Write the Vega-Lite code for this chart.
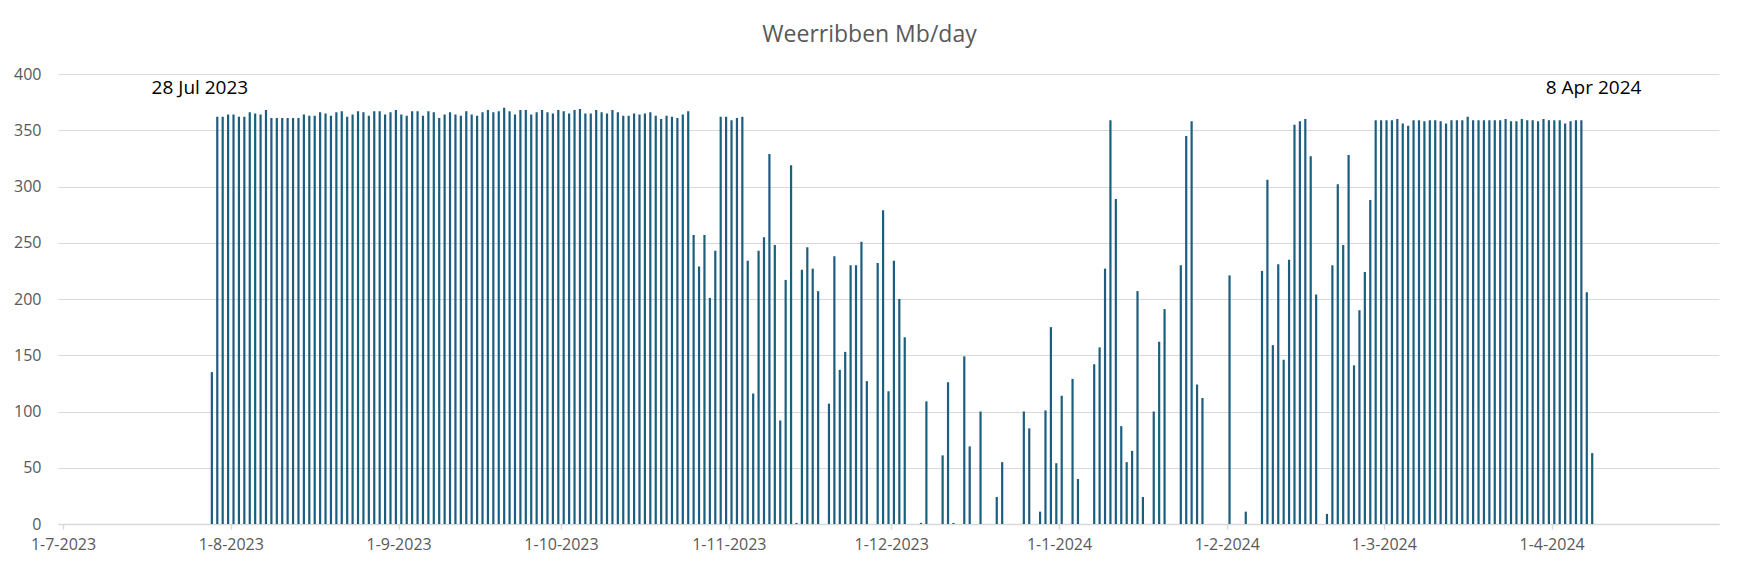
{
  "$schema": "https://vega.github.io/schema/vega-lite/v6.json",
  "width": 1661,
  "height": 450,
  "autosize": {"type": "none"},
  "padding": {"left": 58, "top": 74, "right": 20, "bottom": 46},
  "background": "white",
  "title": {
    "text": "Weerribben Mb/day",
    "font": "Open Sans",
    "fontSize": 23,
    "fontWeight": "normal",
    "color": "#595959",
    "anchor": "middle",
    "frame": "group",
    "offset": 19,
    "dx": -19
  },
  "datasets": {
    "daily": [
      {"d": "2023-07-28T12:00Z", "v": 135},
      {"d": "2023-07-29T12:00Z", "v": 362},
      {"d": "2023-07-30T12:00Z", "v": 362},
      {"d": "2023-07-31T12:00Z", "v": 364},
      {"d": "2023-08-01T12:00Z", "v": 364},
      {"d": "2023-08-02T12:00Z", "v": 362},
      {"d": "2023-08-03T12:00Z", "v": 362},
      {"d": "2023-08-04T12:00Z", "v": 366},
      {"d": "2023-08-05T12:00Z", "v": 365},
      {"d": "2023-08-06T12:00Z", "v": 364},
      {"d": "2023-08-07T12:00Z", "v": 368},
      {"d": "2023-08-08T12:00Z", "v": 361},
      {"d": "2023-08-09T12:00Z", "v": 361},
      {"d": "2023-08-10T12:00Z", "v": 361},
      {"d": "2023-08-11T12:00Z", "v": 361},
      {"d": "2023-08-12T12:00Z", "v": 361},
      {"d": "2023-08-13T12:00Z", "v": 361},
      {"d": "2023-08-14T12:00Z", "v": 364},
      {"d": "2023-08-15T12:00Z", "v": 363},
      {"d": "2023-08-16T12:00Z", "v": 363},
      {"d": "2023-08-17T12:00Z", "v": 366},
      {"d": "2023-08-18T12:00Z", "v": 365},
      {"d": "2023-08-19T12:00Z", "v": 363},
      {"d": "2023-08-20T12:00Z", "v": 366},
      {"d": "2023-08-21T12:00Z", "v": 367},
      {"d": "2023-08-22T12:00Z", "v": 362},
      {"d": "2023-08-23T12:00Z", "v": 364},
      {"d": "2023-08-24T12:00Z", "v": 367},
      {"d": "2023-08-25T12:00Z", "v": 366},
      {"d": "2023-08-26T12:00Z", "v": 363},
      {"d": "2023-08-27T12:00Z", "v": 367},
      {"d": "2023-08-28T12:00Z", "v": 367},
      {"d": "2023-08-29T12:00Z", "v": 364},
      {"d": "2023-08-30T12:00Z", "v": 366},
      {"d": "2023-08-31T12:00Z", "v": 368},
      {"d": "2023-09-01T12:00Z", "v": 364},
      {"d": "2023-09-02T12:00Z", "v": 363},
      {"d": "2023-09-03T12:00Z", "v": 367},
      {"d": "2023-09-04T12:00Z", "v": 367},
      {"d": "2023-09-05T12:00Z", "v": 363},
      {"d": "2023-09-06T12:00Z", "v": 367},
      {"d": "2023-09-07T12:00Z", "v": 366},
      {"d": "2023-09-08T12:00Z", "v": 361},
      {"d": "2023-09-09T12:00Z", "v": 364},
      {"d": "2023-09-10T12:00Z", "v": 366},
      {"d": "2023-09-11T12:00Z", "v": 364},
      {"d": "2023-09-12T12:00Z", "v": 363},
      {"d": "2023-09-13T12:00Z", "v": 367},
      {"d": "2023-09-14T12:00Z", "v": 364},
      {"d": "2023-09-15T12:00Z", "v": 363},
      {"d": "2023-09-16T12:00Z", "v": 366},
      {"d": "2023-09-17T12:00Z", "v": 368},
      {"d": "2023-09-18T12:00Z", "v": 366},
      {"d": "2023-09-19T12:00Z", "v": 367},
      {"d": "2023-09-20T12:00Z", "v": 370},
      {"d": "2023-09-21T12:00Z", "v": 367},
      {"d": "2023-09-22T12:00Z", "v": 364},
      {"d": "2023-09-23T12:00Z", "v": 368},
      {"d": "2023-09-24T12:00Z", "v": 368},
      {"d": "2023-09-25T12:00Z", "v": 364},
      {"d": "2023-09-26T12:00Z", "v": 366},
      {"d": "2023-09-27T12:00Z", "v": 368},
      {"d": "2023-09-28T12:00Z", "v": 366},
      {"d": "2023-09-29T12:00Z", "v": 365},
      {"d": "2023-09-30T12:00Z", "v": 368},
      {"d": "2023-10-01T12:00Z", "v": 367},
      {"d": "2023-10-02T12:00Z", "v": 365},
      {"d": "2023-10-03T12:00Z", "v": 368},
      {"d": "2023-10-04T12:00Z", "v": 369},
      {"d": "2023-10-05T12:00Z", "v": 365},
      {"d": "2023-10-06T12:00Z", "v": 365},
      {"d": "2023-10-07T12:00Z", "v": 368},
      {"d": "2023-10-08T12:00Z", "v": 366},
      {"d": "2023-10-09T12:00Z", "v": 365},
      {"d": "2023-10-10T12:00Z", "v": 368},
      {"d": "2023-10-11T12:00Z", "v": 366},
      {"d": "2023-10-12T12:00Z", "v": 363},
      {"d": "2023-10-13T12:00Z", "v": 363},
      {"d": "2023-10-14T12:00Z", "v": 365},
      {"d": "2023-10-15T12:00Z", "v": 364},
      {"d": "2023-10-16T12:00Z", "v": 365},
      {"d": "2023-10-17T12:00Z", "v": 366},
      {"d": "2023-10-18T12:00Z", "v": 363},
      {"d": "2023-10-19T12:00Z", "v": 360},
      {"d": "2023-10-20T12:00Z", "v": 363},
      {"d": "2023-10-21T12:00Z", "v": 362},
      {"d": "2023-10-22T12:00Z", "v": 361},
      {"d": "2023-10-23T12:00Z", "v": 364},
      {"d": "2023-10-24T12:00Z", "v": 367},
      {"d": "2023-10-25T12:00Z", "v": 257},
      {"d": "2023-10-26T12:00Z", "v": 229},
      {"d": "2023-10-27T12:00Z", "v": 257},
      {"d": "2023-10-28T12:00Z", "v": 201},
      {"d": "2023-10-29T12:00Z", "v": 243},
      {"d": "2023-10-30T12:00Z", "v": 362},
      {"d": "2023-10-31T12:00Z", "v": 362},
      {"d": "2023-11-01T12:00Z", "v": 359},
      {"d": "2023-11-02T12:00Z", "v": 361},
      {"d": "2023-11-03T12:00Z", "v": 362},
      {"d": "2023-11-04T12:00Z", "v": 234},
      {"d": "2023-11-05T12:00Z", "v": 116},
      {"d": "2023-11-06T12:00Z", "v": 243},
      {"d": "2023-11-07T12:00Z", "v": 255},
      {"d": "2023-11-08T12:00Z", "v": 329},
      {"d": "2023-11-09T12:00Z", "v": 248},
      {"d": "2023-11-10T12:00Z", "v": 92},
      {"d": "2023-11-11T12:00Z", "v": 217},
      {"d": "2023-11-12T12:00Z", "v": 319},
      {"d": "2023-11-13T12:00Z", "v": 1},
      {"d": "2023-11-14T12:00Z", "v": 226},
      {"d": "2023-11-15T12:00Z", "v": 246},
      {"d": "2023-11-16T12:00Z", "v": 227},
      {"d": "2023-11-17T12:00Z", "v": 207},
      {"d": "2023-11-19T12:00Z", "v": 107},
      {"d": "2023-11-20T12:00Z", "v": 238},
      {"d": "2023-11-21T12:00Z", "v": 137},
      {"d": "2023-11-22T12:00Z", "v": 153},
      {"d": "2023-11-23T12:00Z", "v": 230},
      {"d": "2023-11-24T12:00Z", "v": 230},
      {"d": "2023-11-25T12:00Z", "v": 251},
      {"d": "2023-11-26T12:00Z", "v": 127},
      {"d": "2023-11-28T12:00Z", "v": 232},
      {"d": "2023-11-29T12:00Z", "v": 279},
      {"d": "2023-11-30T12:00Z", "v": 118},
      {"d": "2023-12-01T12:00Z", "v": 234},
      {"d": "2023-12-02T12:00Z", "v": 200},
      {"d": "2023-12-03T12:00Z", "v": 166},
      {"d": "2023-12-06T12:00Z", "v": 1},
      {"d": "2023-12-07T12:00Z", "v": 109},
      {"d": "2023-12-10T12:00Z", "v": 61},
      {"d": "2023-12-11T12:00Z", "v": 126},
      {"d": "2023-12-12T12:00Z", "v": 1},
      {"d": "2023-12-14T12:00Z", "v": 149},
      {"d": "2023-12-15T12:00Z", "v": 69},
      {"d": "2023-12-17T12:00Z", "v": 100},
      {"d": "2023-12-20T12:00Z", "v": 24},
      {"d": "2023-12-21T12:00Z", "v": 55},
      {"d": "2023-12-25T12:00Z", "v": 100},
      {"d": "2023-12-26T12:00Z", "v": 85},
      {"d": "2023-12-28T12:00Z", "v": 11},
      {"d": "2023-12-29T12:00Z", "v": 101},
      {"d": "2023-12-30T12:00Z", "v": 175},
      {"d": "2023-12-31T12:00Z", "v": 54},
      {"d": "2024-01-01T12:00Z", "v": 114},
      {"d": "2024-01-03T12:00Z", "v": 129},
      {"d": "2024-01-04T12:00Z", "v": 40},
      {"d": "2024-01-07T12:00Z", "v": 142},
      {"d": "2024-01-08T12:00Z", "v": 157},
      {"d": "2024-01-09T12:00Z", "v": 227},
      {"d": "2024-01-10T12:00Z", "v": 359},
      {"d": "2024-01-11T12:00Z", "v": 289},
      {"d": "2024-01-12T12:00Z", "v": 87},
      {"d": "2024-01-13T12:00Z", "v": 55},
      {"d": "2024-01-14T12:00Z", "v": 65},
      {"d": "2024-01-15T12:00Z", "v": 207},
      {"d": "2024-01-16T12:00Z", "v": 24},
      {"d": "2024-01-18T12:00Z", "v": 100},
      {"d": "2024-01-19T12:00Z", "v": 162},
      {"d": "2024-01-20T12:00Z", "v": 191},
      {"d": "2024-01-23T12:00Z", "v": 230},
      {"d": "2024-01-24T12:00Z", "v": 345},
      {"d": "2024-01-25T12:00Z", "v": 358},
      {"d": "2024-01-26T12:00Z", "v": 124},
      {"d": "2024-01-27T12:00Z", "v": 112},
      {"d": "2024-02-01T12:00Z", "v": 221},
      {"d": "2024-02-04T12:00Z", "v": 11},
      {"d": "2024-02-07T12:00Z", "v": 225},
      {"d": "2024-02-08T12:00Z", "v": 306},
      {"d": "2024-02-09T12:00Z", "v": 159},
      {"d": "2024-02-10T12:00Z", "v": 231},
      {"d": "2024-02-11T12:00Z", "v": 146},
      {"d": "2024-02-12T12:00Z", "v": 235},
      {"d": "2024-02-13T12:00Z", "v": 355},
      {"d": "2024-02-14T12:00Z", "v": 358},
      {"d": "2024-02-15T12:00Z", "v": 360},
      {"d": "2024-02-16T12:00Z", "v": 327},
      {"d": "2024-02-17T12:00Z", "v": 204},
      {"d": "2024-02-19T12:00Z", "v": 9},
      {"d": "2024-02-20T12:00Z", "v": 230},
      {"d": "2024-02-21T12:00Z", "v": 302},
      {"d": "2024-02-22T12:00Z", "v": 248},
      {"d": "2024-02-23T12:00Z", "v": 328},
      {"d": "2024-02-24T12:00Z", "v": 141},
      {"d": "2024-02-25T12:00Z", "v": 190},
      {"d": "2024-02-26T12:00Z", "v": 224},
      {"d": "2024-02-27T12:00Z", "v": 288},
      {"d": "2024-02-28T12:00Z", "v": 359},
      {"d": "2024-02-29T12:00Z", "v": 359},
      {"d": "2024-03-01T12:00Z", "v": 359},
      {"d": "2024-03-02T12:00Z", "v": 359},
      {"d": "2024-03-03T12:00Z", "v": 360},
      {"d": "2024-03-04T12:00Z", "v": 356},
      {"d": "2024-03-05T12:00Z", "v": 354},
      {"d": "2024-03-06T12:00Z", "v": 359},
      {"d": "2024-03-07T12:00Z", "v": 359},
      {"d": "2024-03-08T12:00Z", "v": 358},
      {"d": "2024-03-09T12:00Z", "v": 359},
      {"d": "2024-03-10T12:00Z", "v": 359},
      {"d": "2024-03-11T12:00Z", "v": 358},
      {"d": "2024-03-12T12:00Z", "v": 356},
      {"d": "2024-03-13T12:00Z", "v": 359},
      {"d": "2024-03-14T12:00Z", "v": 359},
      {"d": "2024-03-15T12:00Z", "v": 359},
      {"d": "2024-03-16T12:00Z", "v": 362},
      {"d": "2024-03-17T12:00Z", "v": 359},
      {"d": "2024-03-18T12:00Z", "v": 359},
      {"d": "2024-03-19T12:00Z", "v": 359},
      {"d": "2024-03-20T12:00Z", "v": 359},
      {"d": "2024-03-21T12:00Z", "v": 359},
      {"d": "2024-03-22T12:00Z", "v": 359},
      {"d": "2024-03-23T12:00Z", "v": 360},
      {"d": "2024-03-24T12:00Z", "v": 358},
      {"d": "2024-03-25T12:00Z", "v": 358},
      {"d": "2024-03-26T12:00Z", "v": 360},
      {"d": "2024-03-27T12:00Z", "v": 359},
      {"d": "2024-03-28T12:00Z", "v": 359},
      {"d": "2024-03-29T12:00Z", "v": 358},
      {"d": "2024-03-30T12:00Z", "v": 360},
      {"d": "2024-03-31T12:00Z", "v": 359},
      {"d": "2024-04-01T12:00Z", "v": 359},
      {"d": "2024-04-02T12:00Z", "v": 359},
      {"d": "2024-04-03T12:00Z", "v": 356},
      {"d": "2024-04-04T12:00Z", "v": 358},
      {"d": "2024-04-05T12:00Z", "v": 359},
      {"d": "2024-04-06T12:00Z", "v": 359},
      {"d": "2024-04-07T12:00Z", "v": 206},
      {"d": "2024-04-08T12:00Z", "v": 63}
    ],
    "marks": [
      {"d": "2023-07-26T07:00Z", "v": 388, "t": "28 Jul 2023"},
      {"d": "2024-04-08T18:00Z", "v": 388, "t": "8 Apr 2024"}
    ]
  },
  "encoding": {
    "x": {
      "field": "d",
      "type": "temporal",
      "title": null,
      "scale": {"type": "utc", "domain": ["2023-07-01T00:00Z", "2024-05-01T00:00Z"]},
      "axis": {
        "format": "%-d-%-m-%Y",
        "values": [
          {"year": 2023, "month": 7, "date": 1, "utc": true},
          {"year": 2023, "month": 8, "date": 1, "utc": true},
          {"year": 2023, "month": 9, "date": 1, "utc": true},
          {"year": 2023, "month": 10, "date": 1, "utc": true},
          {"year": 2023, "month": 11, "date": 1, "utc": true},
          {"year": 2023, "month": 12, "date": 1, "utc": true},
          {"year": 2024, "month": 1, "date": 1, "utc": true},
          {"year": 2024, "month": 2, "date": 1, "utc": true},
          {"year": 2024, "month": 3, "date": 1, "utc": true},
          {"year": 2024, "month": 4, "date": 1, "utc": true}
        ],
        "grid": false,
        "domainColor": "#d9d9d9",
        "domainWidth": 1.5,
        "tickColor": "#d9d9d9",
        "tickWidth": 1.5,
        "tickSize": 5,
        "labelPadding": 7,
        "labelFlush": false,
        "labelOverlap": false
      }
    },
    "y": {
      "field": "v",
      "type": "quantitative",
      "title": null,
      "scale": {"domain": [0, 400], "nice": false},
      "axis": {
        "values": [0, 50, 100, 150, 200, 250, 300, 350, 400],
        "domain": false,
        "ticks": false,
        "labelPadding": 17,
        "gridColor": "#d9d9d9",
        "gridWidth": 1.2
      }
    }
  },
  "layer": [
    {
      "data": {"name": "daily"},
      "mark": {"type": "bar", "width": 2.2, "color": "#1b5e7e"}
    },
    {
      "data": {"name": "marks"},
      "mark": {"type": "text", "font": "Open Sans", "fontSize": 19, "color": "#000000", "align": "center", "baseline": "middle"},
      "encoding": {"text": {"field": "t"}}
    }
  ],
  "config": {
    "view": {"stroke": null},
    "axis": {
      "labelFont": "Open Sans",
      "labelFontSize": 16,
      "labelColor": "#595959"
    }
  }
}
